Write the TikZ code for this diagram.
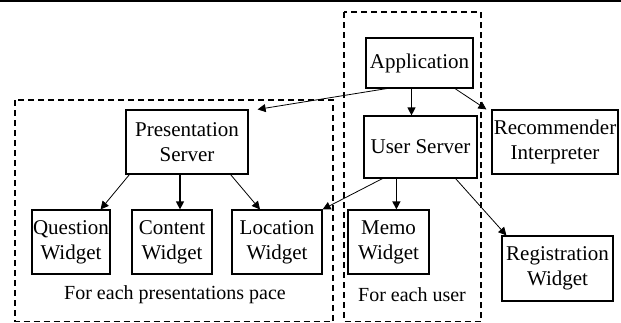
\documentclass[tikz,border=0pt]{standalone}
\usepackage{fontspec}
\setmainfont{Liberation Serif}
\usepackage{tikz}
\usetikzlibrary{arrows.meta, positioning}

\begin{document}
\begin{tikzpicture}[x=1pt, y=-1pt, every text node part/.style={align=center},
    font=\rmfamily\fontsize{21}{25}\selectfont,
    box/.style={draw, rectangle, line width=1.2pt, inner sep=0pt},
    group/.style={draw, dashed, line width=1.1pt, dash pattern=on 6pt off 4pt},
    arr/.style={-{Triangle[length=8pt, width=8pt]}, line width=0.8pt}]

    \useasboundingbox (0,0) rectangle (621,322);

    % Top rule
    \draw[line width=2pt] (0,1) -- (621,1);

    % Dashed groups
    \draw[group] (15,100) rectangle (333,321.5);
    \draw[group] (344,12) rectangle (481,321.5);

    % Application box
    \node[box, minimum width=107pt, minimum height=50pt] (app) at (419.5,63) {Application};

    % Servers
    \node[box, minimum width=122pt, minimum height=64pt] (pres) at (187,142) {Presentation \\ Server};
    \node[box, minimum width=113pt, minimum height=62pt] (user) at (420.5,147) {User Server};
    \node[box, minimum width=126pt, minimum height=64pt] (rec) at (555,142) {Recommender \\ Interpreter};

    % Widgets
    \node[box, minimum width=78pt, minimum height=64pt] (quest) at (71,242) {Question \\ Widget};
    \node[box, minimum width=80pt, minimum height=64pt] (cont) at (172,242) {Content \\ Widget};
    \node[box, minimum width=90pt, minimum height=64pt] (loc) at (277,242) {Location \\ Widget};
    \node[box, minimum width=81pt, minimum height=64pt] (memo) at (388.5,242) {Memo \\ Widget};
    \node[box, minimum width=111pt, minimum height=65pt] (reg) at (557.5,268.5) {Registration \\ Widget};

    % Group labels
    \node[font=\rmfamily\fontsize{20}{24}\selectfont] (preslabel) at (175,295) {For each presentations pace};
    \node[font=\rmfamily\fontsize{20}{24}\selectfont] (userlabel) at (412,295) {For each user};

    % Arrows from application
    \draw[arr] ([xshift=-33pt]app.south) -- ([xshift=9pt]pres.north east);
    \draw[arr, line width=1.2pt] ([xshift=-8pt]app.south) -- ([xshift=-8pt]app.south |- user.north);
    \draw[arr] ([xshift=35.5pt]app.south) -- ([xshift=-5pt]rec.north west);

    % Arrows from presentation server
    \draw[arr] ([xshift=4pt]pres.south west) -- ([xshift=-10pt]quest.north east);
    \draw[arr, line width=1.2pt] ([xshift=-7pt]pres.south) -- ([xshift=-7pt]pres.south |- cont.north);
    \draw[arr] ([xshift=-18pt]pres.south east) -- ([xshift=-17pt]loc.north);

    % Arrows from user server
    \draw[arr] ([xshift=19pt]user.south west) -- (loc.north east);
    \draw[arr, line width=1.2pt] ([xshift=33pt]user.south west) -- ([xshift=33pt]user.south west |- memo.north);
    \draw[arr] ([xshift=-22pt]user.south east) -- ([xshift=5pt]reg.north west);

\end{tikzpicture}
\end{document}
